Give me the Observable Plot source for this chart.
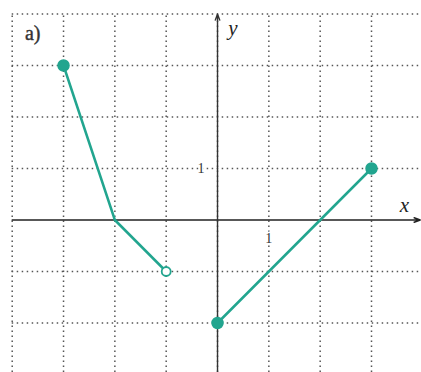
<!DOCTYPE html>
<html>
<head>
<meta charset="utf-8">
<script src="https://cdn.jsdelivr.net/npm/d3@7"></script>
<script src="https://cdn.jsdelivr.net/npm/@observablehq/plot@0.6"></script>
<style>
  html, body { margin: 0; padding: 0; background: #fff; }
</style>
</head>
<body>
<div id="chart"></div>
<script>
// Piece 1: from (-3,3) through (-2,0) to open end at (-1,-1)
const seg1X = [-3, -2, -1];
const seg1Y = [3, 0, -1];
// Piece 2: from (0,-2) to (3,1)
const seg2X = [0, 3];
const seg2Y = [-2, 1];
// Endpoints
const filledX = [-3, 0, 3];
const filledY = [3, -2, 1];
const openX = [-1];
const openY = [-1];
// Grid
const gridX = [-4, -3, -2, -1, 0, 1, 2, 3];
const gridY = [-2, -1, 0, 1, 2, 3, 4];
// Labels
const tickLabels = ["1", "1"];
const panelLabel = "a)";
const xName = "x";
const yName = "y";

const teal = "#22a58f";
const seg1 = seg1X.map((x, i) => ({x, y: seg1Y[i]}));
const seg2 = seg2X.map((x, i) => ({x, y: seg2Y[i]}));
const filled = filledX.map((x, i) => ({x, y: filledY[i]}));
const open = openX.map((x, i) => ({x, y: openY[i]}));

const xMin = -4.228, xMax = 3.974, yMin = -2.961, yMax = 4.262;

const chart = Plot.plot({
  width: 421,
  height: 372,
  margin: 0,
  x: {domain: [xMin, xMax], axis: null},
  y: {domain: [yMin, yMax], axis: null},
  style: {background: "#fff"},
  marks: [
    Plot.ruleX(gridX, {y1: yMin, y2: 4, stroke: "#555", strokeWidth: 1.5, strokeDasharray: "1.5 3.5"}),
    Plot.ruleY(gridY.filter(d => d !== 0), {x1: -4, x2: xMax, stroke: "#555", strokeWidth: 1.5, strokeDasharray: "1.5 3.5"}),
    Plot.arrow([{x1: -4, y1: 0, x2: 3.95, y2: 0}], {x1: "x1", y1: "y1", x2: "x2", y2: "y2", stroke: "#222", strokeWidth: 1.4, headLength: 7, headAngle: 40}),
    Plot.arrow([{x1: 0, y1: yMin, x2: 0, y2: 4.0}], {x1: "x1", y1: "y1", x2: "x2", y2: "y2", stroke: "#333", strokeWidth: 1.4, headLength: 7, headAngle: 40}),
    Plot.line(seg1, {x: "x", y: "y", stroke: teal, strokeWidth: 2.5}),
    Plot.line(seg2, {x: "x", y: "y", stroke: teal, strokeWidth: 2.5}),
    Plot.dot(filled, {x: "x", y: "y", r: 5.5, fill: teal, stroke: teal}),
    Plot.dot(open, {x: "x", y: "y", r: 4.5, fill: "#fff", stroke: teal, strokeWidth: 1.8}),
    Plot.text([tickLabels[0]], {x: -0.32, y: 1, text: d => d, fontFamily: "Liberation Serif", fontSize: 14, fill: "#333", stroke: "#fff", strokeWidth: 3, paintOrder: "stroke"}),
    Plot.text([tickLabels[1]], {x: 1, y: -0.36, text: d => d, fontFamily: "Liberation Serif", fontSize: 14, fill: "#333", stroke: "#fff", strokeWidth: 3, paintOrder: "stroke"}),
    Plot.text([panelLabel], {x: -3.6, y: 3.62, text: d => d, fontFamily: "Liberation Serif", fontSize: 20, fill: "#333", stroke: "#333", strokeWidth: 0.4}),
    Plot.text([xName], {x: 3.64, y: 0.28, text: d => d, fontFamily: "Liberation Serif", fontStyle: "italic", fontSize: 21, fill: "#222"}),
    Plot.text([yName], {x: 0.3, y: 3.72, text: d => d, fontFamily: "Liberation Serif", fontStyle: "italic", fontSize: 21, fill: "#222"})
  ]
});
document.getElementById("chart").appendChild(chart);
</script>
</body>
</html>
